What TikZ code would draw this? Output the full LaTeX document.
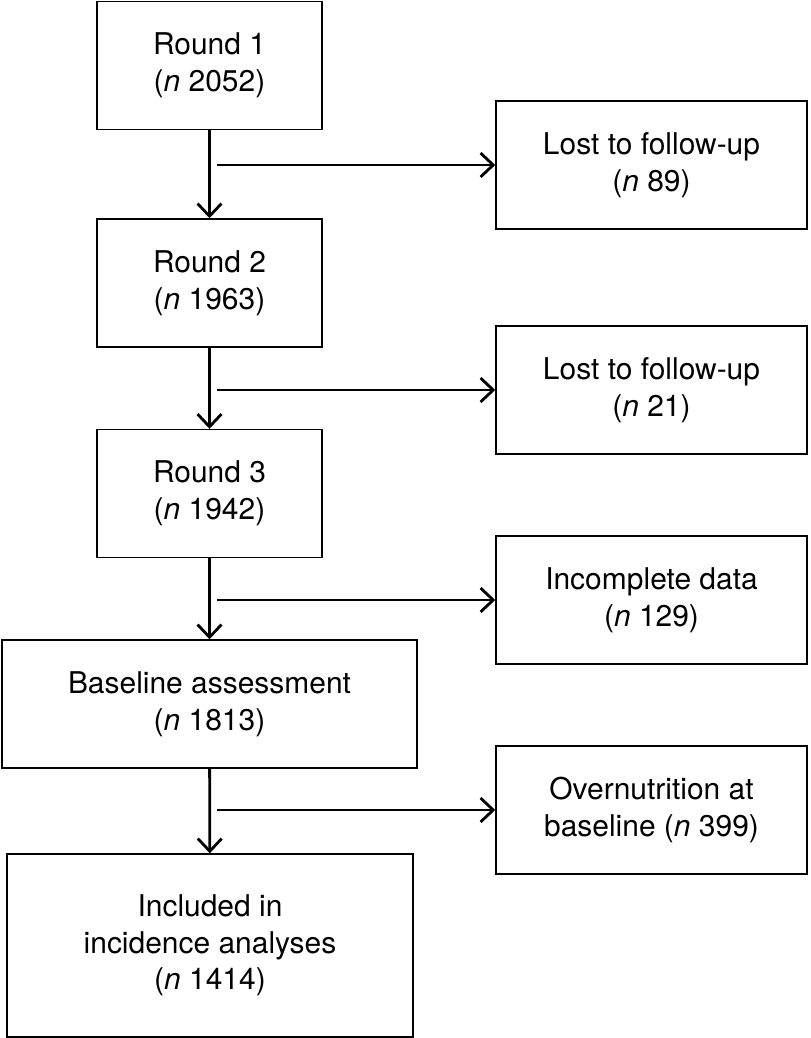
\documentclass[tikz,border=0pt]{standalone}
\usepackage{fontspec}
\setmainfont{TeX Gyre Heros}
\usetikzlibrary{arrows.meta}

\begin{document}
\begin{tikzpicture}[x=0.025cm,y=-0.025cm]
\tikzset{stage/.style={draw,line width=1pt,align=center,inner sep=0pt,minimum height=3.2cm,font=\fontsize{21.3}{26}\selectfont},
flow/.style={line width=2pt,-{Straight Barb[length=9pt,width=17pt,line width=2pt]}}}
\useasboundingbox (0,0) rectangle (810,1038);

% main column
\node[stage,minimum width=5.625cm] (r1) at (209.5,65.5) {Round 1\\(\textit{n} 2052)};
\node[stage,minimum width=5.625cm] (r2) at (209.5,283) {Round 2\\(\textit{n} 1963)};
\node[stage,minimum width=5.625cm] (r3) at (209.5,493.5) {Round 3\\(\textit{n} 1942)};
\node[stage,minimum width=10.375cm] (base) at (209.5,704) {Baseline assessment\\(\textit{n} 1813)};
\node[stage,minimum width=10.15cm,minimum height=4.575cm] (incl) at (210,945.5) {Included in\\incidence analyses\\(\textit{n} 1414)};

% exclusions
\foreach \nm/\yy/\txt in {l1/165/{Lost to follow-up\\(\textit{n} 89)},l2/390/{Lost to follow-up\\(\textit{n} 21)},
  inc/600/{Incomplete data\\(\textit{n} 129)},over/810/{Overnutrition at\\baseline (\textit{n} 399)}}{%
	\node[stage,minimum width=7.775cm] (\nm) at (651.5,\yy) {\txt};
	\coordinate (\nm-from) at (217,\yy);
	\draw[flow] (\nm-from) -- (\nm.west);
}%

\draw[flow] (r1) -- (r2);
\draw[flow] (r2) -- (r3);
\draw[flow] (r3) -- (base);
\draw[flow] (base) -- (incl);
\end{tikzpicture}
\end{document}
